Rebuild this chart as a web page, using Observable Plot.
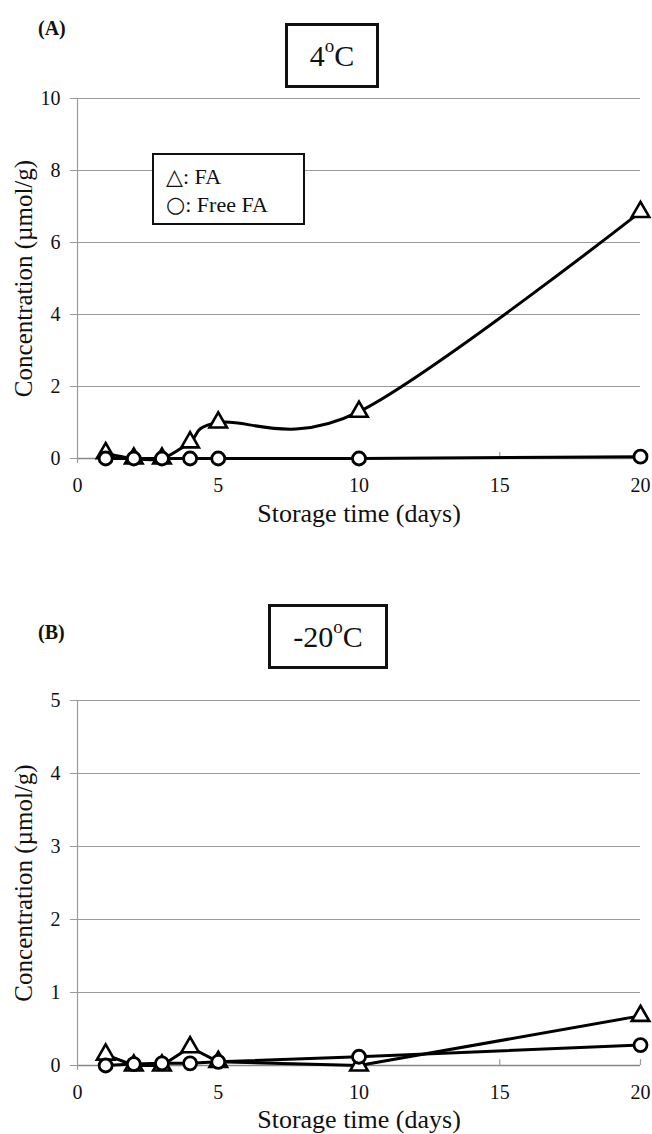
<!DOCTYPE html>
<html>
<head>
<meta charset="utf-8">
<script src="https://cdn.jsdelivr.net/npm/d3@7"></script>
<script src="https://cdn.jsdelivr.net/npm/@observablehq/plot@0.6"></script>
<style>
  html, body { margin: 0; padding: 0; background: white; }
  #wrap { position: relative; width: 652px; height: 1134px; font-family: "Liberation Serif", serif; color: #111; }
  .panel { position: absolute; left: 0; }
  .panel svg, .panel svg text { font-family: "Liberation Serif", serif !important; }
  .plabel { position: absolute; font-weight: bold; font-size: 20px; }
  .tbox { position: absolute; border: 3px solid #111; background: white; box-sizing: border-box;
          display: flex; align-items: center; justify-content: center; font-size: 30px; }
  .tbox sup { font-size: 19px; vertical-align: 0; position: relative; top: -10px; }
  .legend { position: absolute; border: 2px solid #111; background: white; box-sizing: border-box;
            font-size: 22px; line-height: 28px; padding: 8px 0 0 12px; }
  .legend .sym { font-family: "DejaVu Sans", sans-serif; font-size: 22px; }
</style>
</head>
<body>
<div id="wrap">
  <div class="panel" id="pA" style="top:0px"></div>
  <div class="panel" id="pB" style="top:560px"></div>
  <div class="plabel" style="left:38px; top:17px">(A)</div>
  <div class="tbox" style="left:285px; top:23px; width:94px; height:65px">4<sup>o</sup>C</div>
  <div class="legend" style="left:152px; top:153px; width:153px; height:72px">
    <div><span class="sym">△</span>: FA</div>
    <div><span class="sym">○</span>: Free FA</div>
  </div>
  <div class="plabel" style="left:38px; top:621px">(B)</div>
  <div class="tbox" style="left:268px; top:604px; width:120px; height:65px">-20<sup>o</sup>C</div>
</div>
<script>
// ---- data ----
const days = [1, 2, 3, 4, 5, 10, 20];
const faA = [0.15, 0, 0, 0.45, 1.0, 1.3, 6.85];
const freeFaA = [0, 0, 0, 0, 0, 0, 0.05];
const faB = [0.15, 0, 0, 0.25, 0.05, 0, 0.68];
const freeFaB = [0, 0.02, 0.03, 0.03, 0.05, 0.12, 0.28];
const xTicks = [0, 5, 10, 15, 20];
const yTicksA = [0, 2, 4, 6, 8, 10];
const yTicksB = [0, 1, 2, 3, 4, 5];
const xTitle = "Storage time (days)";
const yTitle = "Concentration (\u00b5mol/g)";

const SERIF = "'Liberation Serif', serif";
function toRows(vals) { return days.map((d, i) => ({day: d, v: vals[i]})); }

function panel({fa, ffa, yTicks, height, marginTop, marginBottom, faCurve, tickLen, xTitleDy, xTickPad}) {
  const ymax = yTicks[yTicks.length - 1];
  const faRows = toRows(fa), ffaRows = toRows(ffa);
  return Plot.plot({
    width: 652, height, marginLeft: 77, marginRight: 12, marginTop, marginBottom,
    style: {fontFamily: SERIF, fontSize: "20px", color: "#111", background: "white", overflow: "visible"},
    x: {domain: [0, 20], label: null},
    y: {domain: [0, ymax], label: null},
    marks: [
      Plot.gridY(yTicks.filter(t => t > 0), {stroke: "#9a9a9a", strokeOpacity: 1, strokeWidth: 1.2}),
      Plot.ruleY([0], {stroke: "#888", strokeWidth: 1.4}),
      Plot.ruleX([0], {y1: -tickLen * 0.8, y2: ymax, stroke: "#9a9a9a", strokeWidth: 1.2}),
      Plot.ruleX(xTicks.filter(t => t > 0), {x: d => d, y1: 0, y2: tickLen, stroke: "#9a9a9a", strokeWidth: 1.2}),
      Plot.axisY(yTicks, {tickSize: 7, tickPadding: 10, stroke: "#9a9a9a", fontSize: 20, fontFamily: SERIF, tickFormat: d => String(d)}),
      Plot.axisX(xTicks, {tickSize: 0, tickPadding: xTickPad, fontSize: 20, fontFamily: SERIF, tickFormat: d => String(d)}),
      Plot.text([xTitle], {frameAnchor: "bottom", textAnchor: "middle", lineAnchor: "middle", dy: xTitleDy, fontSize: 26, fontFamily: SERIF}),
      Plot.text([yTitle], {frameAnchor: "left", textAnchor: "middle", lineAnchor: "middle", rotate: -90, dx: -54, fontSize: 25, fontFamily: SERIF}),
      Plot.line(faRows, {x: "day", y: "v", curve: faCurve, stroke: "#000", strokeWidth: 3}),
      Plot.line(ffaRows, {x: "day", y: "v", stroke: "#000", strokeWidth: 3}),
      Plot.dot(faRows, {x: "day", y: "v", symbol: "triangle", r: 6.5, fill: "white", stroke: "#000", strokeWidth: 2.6}),
      Plot.dot(ffaRows, {x: "day", y: "v", symbol: "circle", r: 6.5, fill: "white", stroke: "#000", strokeWidth: 2.8})
    ]
  });
}

document.getElementById("pA").append(panel({
  fa: faA, ffa: freeFaA, yTicks: yTicksA, height: 540, marginTop: 98, marginBottom: 82,
  faCurve: "cardinal", tickLen: 0.17, xTitleDy: 55, xTickPad: 19
}));
document.getElementById("pB").append(panel({
  fa: faB, ffa: freeFaB, yTicks: yTicksB, height: 574, marginTop: 140, marginBottom: 69,
  faCurve: "linear", tickLen: 0.08, xTitleDy: 54, xTickPad: 19
}));
</script>
</body>
</html>
